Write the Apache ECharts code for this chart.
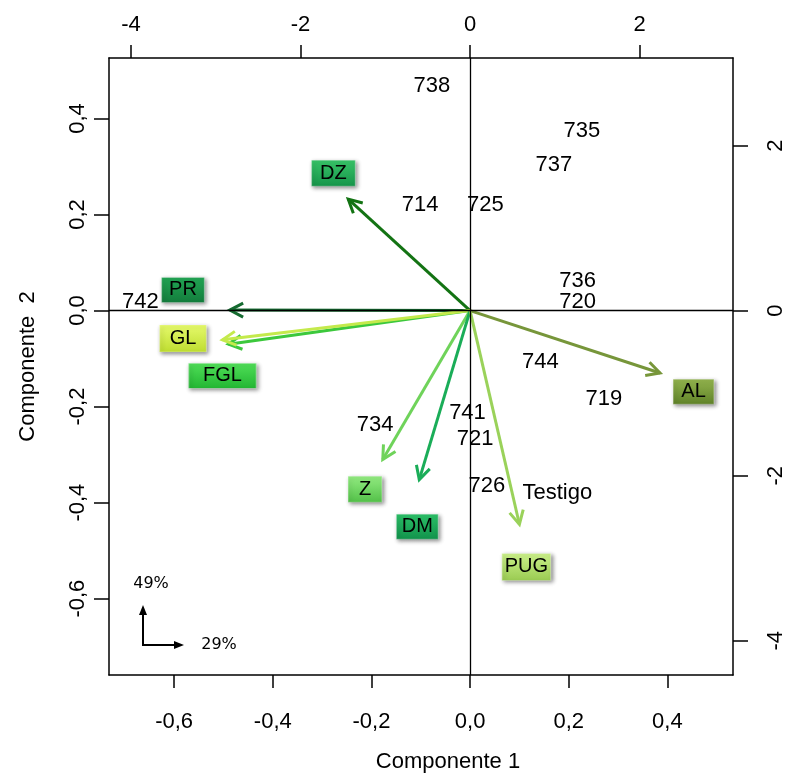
<!DOCTYPE html>
<html>
<head>
<meta charset="utf-8">
<script src="https://cdn.jsdelivr.net/npm/echarts@6/dist/echarts.min.js"></script>
<style>
  html, body { margin: 0; padding: 0; background: #fff; }
  #chart { width: 791px; height: 775px; }
</style>
</head>
<body>
<div id="chart"></div>
<script>
// observaciones (ejes superior / derecho)
const obsNames = ['738', '735', '737', '714', '725', '736', '720', '742', '744', '719', '734', '741', '721', '726', 'Testigo'];
const obsX = [-0.45, 1.32, 0.99, -0.59, 0.18, 1.27, 1.27, -3.89, 0.83, 1.58, -1.12, -0.03, 0.06, 0.20, 1.03];
const obsY = [2.72, 2.18, 1.77, 1.28, 1.28, 0.36, 0.11, 0.11, -0.62, -1.07, -1.39, -1.24, -1.55, -2.13, -2.21];

// variables (ejes inferior / izquierdo)
const varNames = ['DZ', 'PR', 'FGL', 'GL', 'AL', 'Z', 'DM', 'PUG'];
const varX = [-0.247, -0.487, -0.490, -0.502, 0.385, -0.177, -0.103, 0.100];
const varY = [0.232, 0.001, -0.070, -0.061, -0.130, -0.310, -0.352, -0.445];
// donde va la etiqueta de cada variable
const labX = [-0.277, -0.582, -0.502, -0.582, 0.453, -0.213, -0.107, 0.114];
const labY = [0.286, 0.043, -0.136, -0.058, -0.169, -0.372, -0.450, -0.534];

const ticks1 = [-0.6, -0.4, -0.2, 0, 0.2, 0.4];
const ticks2 = [-4, -2, 0, 2];

const arrowColors = ['#137313', '#156b30', '#3cc83c', '#c4ea4c', '#77963a', '#6fd35a', '#1aad58', '#9ad25a'];
const boxTop = ['#38c468', '#22a654', '#50de58', '#e6fa6c', '#93b44e', '#94ec82', '#2cc068', '#cbf08a'];
const boxBottom = ['#16944a', '#137c3c', '#22b632', '#bedd30', '#5f8228', '#52c048', '#11924b', '#9acb52'];
const boxSizes = [[44, 26], [43, 25], [68, 25], [47, 27], [41, 25], [34, 26], [42, 25], [49, 27]];

const FONT = '"Liberation Sans", Arial, sans-serif';
const comma = (v) => v.toFixed(1).replace('.', ',');

const chart = echarts.init(document.getElementById('chart'));

function baseAxis(extra) {
  return Object.assign({
    type: 'value',
    scale: true,
    axisLine: { show: true, onZero: false, lineStyle: { color: '#000', width: 1.5 } },
    axisTick: { show: true, inside: false, length: 14, lineStyle: { color: '#000', width: 1.5 } },
    splitLine: { show: false },
    nameTextStyle: { color: '#000', fontFamily: FONT, fontSize: 22 },
  }, extra);
}

chart.setOption({
  animation: false,
  backgroundColor: '#fff',
  grid: { left: 109, right: 58, top: 58, bottom: 100, containLabel: false, outerBoundsMode: 'none' },
  xAxis: [
    baseAxis({
      position: 'bottom',
      min: -0.732, max: 0.533,
      name: 'Componente 1',
      nameLocation: 'middle',
      nameGap: 76,
      nameTextStyle: { color: '#000', fontFamily: FONT, fontSize: 22, padding: [0, 0, 0, 54] },
      axisTick: { show: true, length: 13, customValues: ticks1, lineStyle: { color: '#000', width: 1.5 } },
      axisLabel: { customValues: ticks1, formatter: comma, margin: 36, color: '#000', fontFamily: FONT, fontSize: 22 },
    }),
    baseAxis({
      position: 'top',
      min: -4.26, max: 3.103,
      axisTick: { show: true, length: 13, customValues: ticks2, lineStyle: { color: '#000', width: 1.5 } },
      axisLabel: { customValues: ticks2, margin: 22, color: '#000', fontFamily: FONT, fontSize: 22 },
    }),
  ],
  yAxis: [
    baseAxis({
      position: 'left',
      min: -0.759, max: 0.526,
      name: 'Componente  2',
      nameLocation: 'middle',
      nameGap: 70,
      axisTick: { show: true, length: 15, customValues: ticks1, lineStyle: { color: '#000', width: 1.5 } },
      axisLabel: { customValues: ticks1, formatter: comma, rotate: 90, margin: 20, color: '#000', fontFamily: FONT, fontSize: 22 },
    }),
    baseAxis({
      position: 'right',
      min: -4.416, max: 3.063,
      axisTick: { show: true, length: 15, customValues: ticks2, lineStyle: { color: '#000', width: 1.5 } },
      axisLabel: { customValues: ticks2, rotate: 90, margin: 32, color: '#000', fontFamily: FONT, fontSize: 22 },
    }),
  ],
  series: [
    {
      // flechas de las variables
      type: 'custom',
      xAxisIndex: 0,
      yAxisIndex: 0,
      data: varX.map((x, i) => [x, varY[i]]),
      renderItem(params, api) {
        const o = api.coord([0, 0]);
        const t = api.coord([api.value(0), api.value(1)]);
        const ang = Math.atan2(t[1] - o[1], t[0] - o[0]);
        const L = 15, a = Math.PI / 6.5;
        const b1 = [t[0] - L * Math.cos(ang - a), t[1] - L * Math.sin(ang - a)];
        const b2 = [t[0] - L * Math.cos(ang + a), t[1] - L * Math.sin(ang + a)];
        const c = arrowColors[params.dataIndex];
        return {
          type: 'group',
          children: [
            { type: 'line', shape: { x1: o[0], y1: o[1], x2: t[0], y2: t[1] }, style: { stroke: c, lineWidth: 3 } },
            { type: 'polyline', shape: { points: [b1, t, b2] }, style: { stroke: c, lineWidth: 3, fill: null, lineJoin: 'miter' } },
          ],
        };
      },
      markLine: {
        silent: true,
        symbol: 'none',
        label: { show: false },
        lineStyle: { color: '#000', width: 1.3, type: 'solid' },
        data: [{ xAxis: 0 }, { yAxis: 0 }],
      },
      z: 3,
    },
    {
      // cajas con el nombre de cada variable
      type: 'scatter',
      xAxisIndex: 0,
      yAxisIndex: 0,
      symbol: 'rect',
      data: varNames.map((n, i) => ({
        name: n,
        value: [labX[i], labY[i]],
        symbolSize: boxSizes[i],
        itemStyle: {
          opacity: 1,
          color: {
            type: 'linear', x: 0, y: 0, x2: 0, y2: 1,
            colorStops: [{ offset: 0, color: boxTop[i] }, { offset: 1, color: boxBottom[i] }],
          },
          borderColor: 'rgba(255,255,255,0.35)',
          borderWidth: 1,
          shadowBlur: 4,
          shadowColor: 'rgba(0,0,0,0.45)',
          shadowOffsetX: 2,
          shadowOffsetY: 2,
        },
      })),
      label: {
        show: true,
        position: 'inside',
        formatter: '{b}',
        color: '#000',
        fontFamily: FONT,
        fontSize: 20,
      },
      z: 4,
    },
    {
      // etiquetas de las observaciones
      type: 'scatter',
      xAxisIndex: 1,
      yAxisIndex: 1,
      symbolSize: 0,
      itemStyle: { opacity: 1 },
      data: obsNames.map((n, i) => ({ name: n, value: [obsX[i], obsY[i]] })),
      label: {
        show: true,
        position: 'inside',
        formatter: '{b}',
        color: '#000',
        fontFamily: FONT,
        fontSize: 22,
      },
      z: 5,
    },
  ],
  graphic: [
    { type: 'line', shape: { x1: 143, y1: 645, x2: 143, y2: 612 }, style: { stroke: '#000', lineWidth: 2 } },
    { type: 'polygon', shape: { points: [[143, 605], [139, 615], [147, 615]] }, style: { fill: '#000' } },
    { type: 'line', shape: { x1: 142, y1: 645, x2: 176, y2: 645 }, style: { stroke: '#000', lineWidth: 2 } },
    { type: 'polygon', shape: { points: [[184, 645], [174, 641], [174, 649]] }, style: { fill: '#000' } },
    { type: 'text', x: 151, y: 584, style: { text: '49%', font: '16px "DejaVu Sans"', fill: '#000', align: 'center', verticalAlign: 'middle' } },
    { type: 'text', x: 219, y: 645, style: { text: '29%', font: '16px "DejaVu Sans"', fill: '#000', align: 'center', verticalAlign: 'middle' } },
  ],
});
</script>
</body>
</html>
